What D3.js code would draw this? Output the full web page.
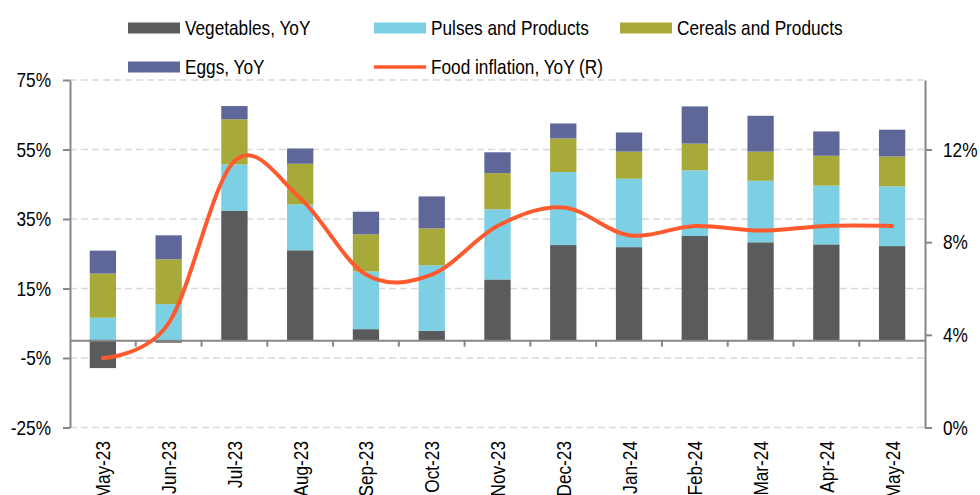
<!DOCTYPE html>
<html lang="en">
<head>
    <meta charset="UTF-8">
    <title>Food inflation components</title>
    <script src="https://d3js.org/d3.v7.min.js"></script>
    <style>
        body { margin: 0; background: #fff; }
        text {
            font-family: "Liberation Sans Narrow", "Arial Narrow", "Liberation Sans", Arial, sans-serif;
            font-size: 21px;
            fill: #000;
        }
        .grid line { stroke: #d9d9d9; stroke-width: 1.5; stroke-dasharray: 7,4; }
        .axis path, .axis line { stroke: #868686; stroke-width: 2; }
    </style>
</head>
<body>
    <svg width="980" height="495"></svg>

    <script>
        // data
        const months = ["May-23", "Jun-23", "Jul-23", "Aug-23", "Sep-23", "Oct-23", "Nov-23",
                        "Dec-23", "Jan-24", "Feb-24", "Mar-24", "Apr-24", "May-24"];
        const vegetables = [-7.9, -0.6, 37.3, 26.0, 3.3, 2.8, 17.6, 27.5, 26.9, 30.1, 28.3, 27.7, 27.2];
        const pulses     = [6.6, 10.5, 13.4, 13.2, 16.6, 18.9, 20.2, 21.0, 19.7, 18.9, 17.7, 16.9, 17.2];
        const cereals    = [12.7, 12.9, 13.0, 11.7, 10.7, 10.6, 10.4, 9.7, 7.8, 7.7, 8.4, 8.6, 8.6];
        const eggs       = [6.6, 6.9, 3.8, 4.4, 6.5, 9.2, 6.0, 4.3, 5.5, 10.7, 10.3, 7.0, 7.7];
        const foodInflation = [3.0, 4.5, 11.5, 9.9, 6.6, 6.6, 8.7, 9.5, 8.3, 8.7, 8.5, 8.7, 8.7];

        const leftTicks = [-25, -5, 15, 35, 55, 75];
        const rightTicks = [0, 4, 8, 12];

        const seriesKeys = ["vegetables", "pulses", "cereals", "eggs"];
        const seriesNames = {
            vegetables: "Vegetables, YoY",
            pulses: "Pulses and Products",
            cereals: "Cereals and Products",
            eggs: "Eggs, YoY"
        };
        const colors = {
            vegetables: "#5a5b5d",
            pulses: "#7dd0e4",
            cereals: "#a7aa38",
            eggs: "#5e6797"
        };
        const lineColor = "#ff5a2d";

        const rows = months.map((m, i) => ({
            month: m,
            vegetables: vegetables[i],
            pulses: pulses[i],
            cereals: cereals[i],
            eggs: eggs[i],
            food: foodInflation[i]
        }));

        const plotLeft = 70, plotRight = 925, plotTop = 80, plotBottom = 427.5;
        const svg = d3.select("svg");

        const x = d3.scaleBand()
            .domain(months)
            .range([plotLeft, plotRight])
            .paddingInner(0.6)
            .paddingOuter(0.3);

        const xStep = d3.scaleBand().domain(months).range([plotLeft, plotRight]);

        const y = d3.scaleLinear().domain([-25, 75]).range([plotBottom, plotTop]);
        const yR = d3.scaleLinear().domain([0, 15]).range([plotBottom, plotTop]);

        // gridlines
        svg.append("g")
            .attr("class", "grid")
            .selectAll("line")
            .data(leftTicks)
            .enter().append("line")
            .attr("x1", plotLeft)
            .attr("x2", plotRight)
            .attr("y1", d => y(d))
            .attr("y2", d => y(d));

        // stacked bars, negatives below zero
        const stacked = d3.stack()
            .keys(seriesKeys)
            .offset(d3.stackOffsetDiverging)(rows);

        svg.append("g")
            .selectAll("g")
            .data(stacked)
            .enter().append("g")
            .attr("fill", d => colors[d.key])
            .selectAll("rect")
            .data(d => d)
            .enter().append("rect")
            .attr("x", d => x(d.data.month))
            .attr("width", x.bandwidth())
            .attr("y", d => y(Math.max(d[0], d[1])))
            .attr("height", d => Math.abs(y(d[0]) - y(d[1])));

        // category axis on zero line
        const xAxis = svg.append("g")
            .attr("class", "axis")
            .attr("transform", "translate(0," + y(0) + ")");
        xAxis.append("line")
            .attr("x1", plotLeft)
            .attr("x2", plotRight)
            .attr("y1", 0)
            .attr("y2", 0);
        xAxis.selectAll(".tick")
            .data(months.slice(1))
            .enter().append("line")
            .attr("x1", d => xStep(d))
            .attr("x2", d => xStep(d))
            .attr("y1", 0)
            .attr("y2", 6);

        // month labels along the bottom
        svg.append("g")
            .selectAll("text")
            .data(months)
            .enter().append("text")
            .attr("transform", d => "translate(" + (x(d) + x.bandwidth() / 2 + 7.5) + ",441) rotate(-90)")
            .attr("text-anchor", "end")
            .text(d => d);

        // left axis
        svg.append("g")
            .attr("class", "axis")
            .attr("transform", "translate(" + plotLeft + ",0)")
            .call(d3.axisLeft(y).tickValues(leftTicks).tickSize(7).tickSizeOuter(0).tickPadding(12)
                .tickFormat(d => d + "%"))
            .call(g => g.selectAll(".tick text").style("font-size", "21px")
                .style("font-family", null));

        // right axis
        svg.append("g")
            .attr("class", "axis")
            .attr("transform", "translate(" + plotRight + ",0)")
            .call(d3.axisRight(yR).tickValues(rightTicks).tickSize(7).tickSizeOuter(0).tickPadding(11)
                .tickFormat(d => d + "%"))
            .call(g => g.selectAll(".tick text").style("font-size", "21px")
                .style("font-family", null));

        svg.selectAll(".axis .domain").attr("fill", "none");
        svg.selectAll(".axis text").attr("fill", "#000");

        // food inflation line
        const line = d3.line()
            .x(d => x(d.month) + x.bandwidth() / 2)
            .y(d => yR(d.food))
            .curve(d3.curveCatmullRom.alpha(0));

        svg.append("path")
            .datum(rows)
            .attr("fill", "none")
            .attr("stroke", lineColor)
            .attr("stroke-width", 4)
            .attr("stroke-linecap", "round")
            .attr("d", line);

        // legend
        const legendItems = [
            { key: "vegetables", x: 128, y: 28 },
            { key: "pulses", x: 374, y: 28 },
            { key: "cereals", x: 620, y: 28 },
            { key: "eggs", x: 128, y: 67 },
            { key: "food", x: 374, y: 67 }
        ];
        const legend = svg.append("g");
        legendItems.forEach(item => {
            const g = legend.append("g").attr("transform", "translate(" + item.x + "," + item.y + ")");
            if (item.key === "food") {
                g.append("line")
                    .attr("x1", 0).attr("x2", 52)
                    .attr("stroke", lineColor)
                    .attr("stroke-width", 3.5);
            } else {
                g.append("rect")
                    .attr("x", 0).attr("y", -5.5)
                    .attr("width", 52).attr("height", 11)
                    .attr("fill", colors[item.key]);
            }
            g.append("text")
                .attr("x", 57)
                .attr("dy", "0.35em")
                .text(item.key === "food" ? "Food inflation, YoY (R)" : seriesNames[item.key]);
        });

        // the original uses a narrow face; squeeze the fallback font to match
        svg.selectAll("text").each(function() {
            const w = this.getComputedTextLength();
            d3.select(this)
                .attr("textLength", (w * 0.82).toFixed(1))
                .attr("lengthAdjust", "spacingAndGlyphs");
        });
    </script>
</body>
</html>
